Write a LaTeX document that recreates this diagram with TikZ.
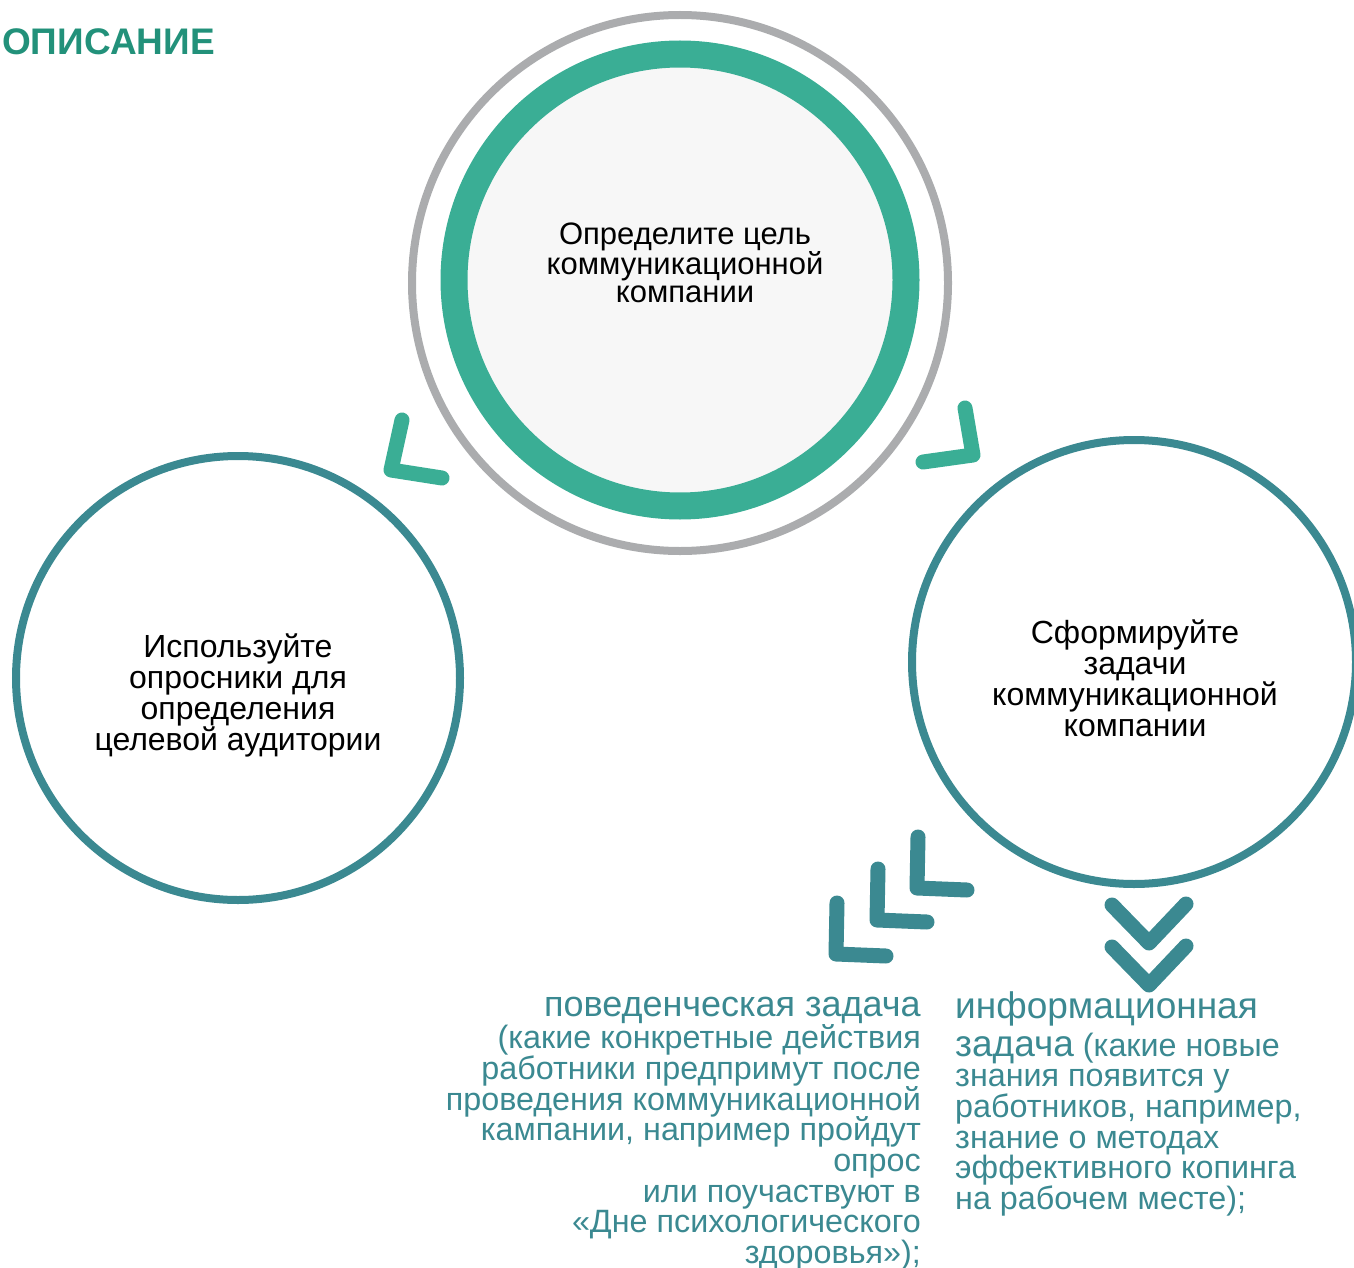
\documentclass[tikz,border=0pt]{standalone}
\usepackage{fontspec}
\setmainfont{Liberation Sans}
\usepackage{tikz}
\usetikzlibrary{positioning}
\definecolor{headgreen}{HTML}{22917A}
\definecolor{ringgreen}{HTML}{3AAE95}
\definecolor{ringteal}{HTML}{3B8991}
\definecolor{ringgray}{HTML}{ABACAE}
\definecolor{innerfill}{HTML}{F7F7F7}
\tikzstyle{ring}=[inner sep=0pt, draw, shape=circle]
\tikzstyle{chev}=[line width=15pt, line cap=round, line join=round]
\tikzstyle{ctxt}=[inner sep=0pt, align=center, font=\fontsize{32}{31}\selectfont]
\tikzstyle{btxt}=[inner sep=0pt, text=ringteal, font=\fontsize{32.3}{30.7}\selectfont]
\tikzset{>=stealth}

\begin{document}
\begin{tikzpicture}[x=1pt, y=-1pt]
\useasboundingbox (0,0) rectangle (1354,1268);
% the heading
\node[anchor=base west, inner sep=0pt, text=headgreen, font=\fontsize{37}{40}\selectfont\bfseries] (head) at (2,55) {ОПИСАНИЕ};
% the top circle with its grey ring
\node[ring, ringgray, line width=8pt, minimum size=536pt] (G0) at (680,283) {};
\node[ring, draw=ringgreen, fill=innerfill, line width=27pt, minimum size=452pt] (G) at (680,280) {};
\node[ctxt, font=\fontsize{31}{28}\selectfont] (Gt) at (685,263) {Определите цель\\коммуникационной\\компании};
% the two lower circles
\node[ring, ringteal, line width=8pt, minimum size=444pt] (L) at (238,678) {};
\node[ctxt] (Lt) at (238,695) {Используйте\\опросники для\\определения\\целевой аудитории};
\node[ring, ringteal, line width=8pt, minimum size=444pt] (R) at (1134,662) {};
\node[ctxt] (Rt) at (1135,678) {Сформируйте\\задачи\\коммуникационной\\компании};
% the chevrons
\draw[chev, ringgreen] (402,420) -- (391,470) -- (442,478);
\draw[chev, ringgreen] (965,408) -- (973,455) -- (923,462);
\foreach \dx/\dy in {0/0, -40/32, -81/66}
  \draw[chev, ringteal, shift={(\dx,\dy)}] (918,837) -- ++(-1,51) -- ++(50,2);
\foreach \dy in {0, 42}
  \draw[chev, ringteal, shift={(0,\dy)}] (1112,905) -- ++(37,38) -- ++(37,-39);
% the two tasks
\node[btxt, anchor=north east, align=right] (beh) at (921,997) {{\fontsize{36}{36}\selectfont поведенческая задача}\\(какие конкретные действия\\работники предпримут после\\проведения коммуникационной\\кампании, например пройдут\\опрос\\или поучаствуют в\\«Дне психологического\\здоровья»);};
\node[btxt, anchor=north west, align=left] (inf) at (955,991) {{\fontsize{37}{37}\selectfont информационная}\\[6pt]{\fontsize{37}{37}\selectfont задача} (какие новые\\знания появится у\\работников, например,\\знание о методах\\эффективного копинга\\на рабочем месте);};
\end{tikzpicture}
\end{document}
